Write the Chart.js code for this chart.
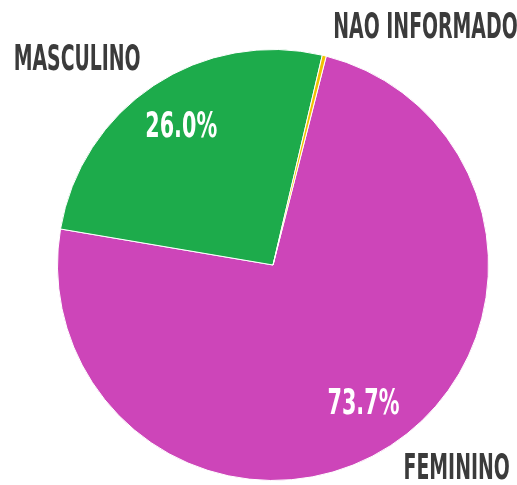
<!DOCTYPE html>
<html>
<head>
<meta charset="utf-8">
<script src="https://cdn.jsdelivr.net/npm/chart.js"></script>
<style>
  html, body { margin: 0; padding: 0; background: #fff; }
</style>
</head>
<body>
<canvas id="pieChart" width="517" height="485"></canvas>
<script>
const labels = ['FEMININO', 'MASCULINO', 'NAO INFORMADO'];
const values = [73.7, 26.0, 0.3];
const colors = ['#cd45b9', '#1dab4b', '#f2c200'];
const showPct = [true, true, false];

const FONT = "bold 36px 'Liberation Sans Narrow', 'DejaVu Sans Condensed', 'Roboto', sans-serif";
const CAP = 26;
let SX = 0.72;

function drawText(ctx, text, x, y, align, color, widen) {
    ctx.save();
    ctx.translate(x, y);
    ctx.scale(SX * (widen || 1), 1);
    ctx.font = FONT;
    ctx.fillStyle = color;
    ctx.textAlign = align;
    ctx.textBaseline = 'alphabetic';
    ctx.fillText(text, 0, 0);
    ctx.restore();
}

// labels outside the pie plus percentages inside
const sliceLabels = {
    id: 'sliceLabels',
    afterDatasetsDraw(chart) {
        const ctx = chart.ctx;
        // squeeze the font so it looks like the narrow display face of the original
        ctx.save();
        ctx.font = FONT;
        SX = 127 / ctx.measureText('MASCULINO').width;
        ctx.restore();

        const meta = chart.getDatasetMeta(0);
        meta.data.forEach((arc, i) => {
            const mid = (arc.startAngle + arc.endAngle) / 2;
            const r = arc.outerRadius;
            const cos = Math.cos(mid), sin = Math.sin(mid);

            if (showPct[i]) {
                const px = arc.x + cos * r * 0.77;
                const py = arc.y + sin * r * 0.77;
                drawText(ctx, values[i].toFixed(1) + '%', px, py + CAP / 2 - 3, 'center', '#ffffff', 1.1);
            }

            const ox = arc.x + cos * r * 1.06;
            const oy = arc.y + sin * r * 1.06;
            const right = cos >= 0;
            const align = right ? 'left' : 'right';
            const x = ox + (right ? 6 : -6);
            const y = sin < 0 ? oy - 5 : oy + CAP - 3;
            drawText(ctx, labels[i], x, y, align, '#3b3b3b');
        });
    }
};

new Chart(document.getElementById('pieChart'), {
    type: 'pie',
    data: {
        labels: labels,
        datasets: [{
            data: values,
            backgroundColor: colors,
            borderColor: '#ffffff',
            borderWidth: 1
        }]
    },
    options: {
        responsive: false,
        animation: false,
        rotation: 14.3,
        layout: { padding: { left: 57, right: 28, top: 49, bottom: 4 } },
        plugins: {
            legend: { display: false },
            tooltip: { enabled: false }
        }
    },
    plugins: [sliceLabels]
});
</script>
</body>
</html>
